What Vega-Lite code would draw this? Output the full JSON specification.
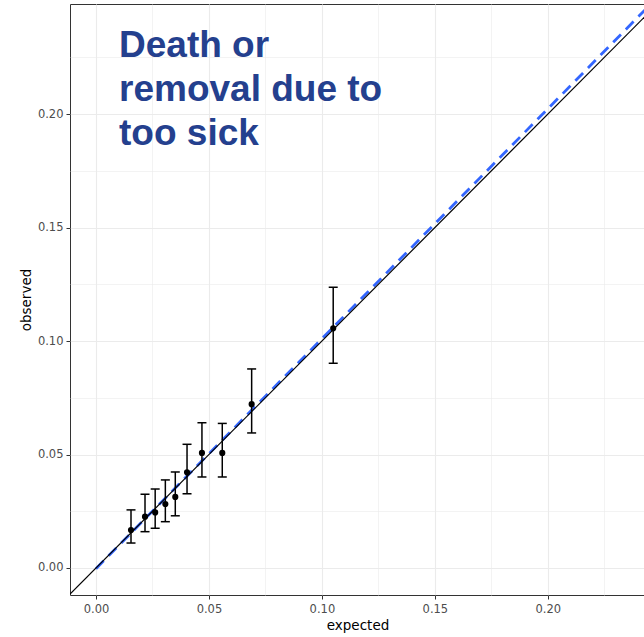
{
  "$schema": "https://vega.github.io/schema/vega-lite/v6.json",
  "width": 575,
  "height": 591,
  "autosize": "none",
  "padding": {"left": 70, "top": 4, "right": 0, "bottom": 42},
  "background": "white",
  "config": {
    "font": "DejaVu Sans",
    "view": {"stroke": "#333333", "strokeWidth": 1},
    "axis": {
      "domain": false,
      "gridColor": "#ebebeb",
      "tickColor": "#333333",
      "tickSize": 4,
      "labelColor": "#4d4d4d",
      "labelFontSize": 11.5,
      "labelFont": "DejaVu Sans",
      "titleFont": "DejaVu Sans",
      "titleFontSize": 13.5,
      "titleFontWeight": "normal",
      "titleColor": "#000000",
      "labelPadding": 3
    }
  },
  "datasets": {
    "pts": [
      {"expected": 0.0155, "observed": 0.0167, "lo": 0.0110, "hi": 0.0256},
      {"expected": 0.0217, "observed": 0.0226, "lo": 0.0160, "hi": 0.0325},
      {"expected": 0.0262, "observed": 0.0245, "lo": 0.0175, "hi": 0.0348},
      {"expected": 0.0307, "observed": 0.0282, "lo": 0.0204, "hi": 0.0388},
      {"expected": 0.0351, "observed": 0.0313, "lo": 0.0230, "hi": 0.0423},
      {"expected": 0.0403, "observed": 0.0422, "lo": 0.0327, "hi": 0.0545},
      {"expected": 0.0469, "observed": 0.0507, "lo": 0.0401, "hi": 0.0640},
      {"expected": 0.0559, "observed": 0.0507, "lo": 0.0401, "hi": 0.0637},
      {"expected": 0.0689, "observed": 0.0722, "lo": 0.0595, "hi": 0.0877},
      {"expected": 0.1050, "observed": 0.1056, "lo": 0.0902, "hi": 0.1237}
    ],
    "identity": [
      {"expected": -0.0115, "observed": -0.0115},
      {"expected": 0.2430, "observed": 0.2430}
    ],
    "fit": [
      {"expected": 0.0, "observed": -0.0003},
      {"expected": 0.2430, "observed": 0.2459}
    ],
    "label": [
      {"expected": 0.0102, "observed": 0.2251, "text": "Death or\nremoval due to\ntoo sick"}
    ]
  },
  "encoding": {
    "x": {
      "field": "expected",
      "type": "quantitative",
      "title": "expected",
      "scale": {"domain": [-0.0115, 0.2430], "nice": false, "zero": false},
      "axis": {
        "values": [0, 0.025, 0.05, 0.075, 0.1, 0.125, 0.15, 0.175, 0.2, 0.225],
        "labelExpr": "round(datum.value*40) % 2 == 0 ? format(datum.value, '.2f') : ''",
        "tickOpacity": {"condition": {"test": "round(datum.value*40) % 2 == 1", "value": 0}, "value": 1},
        "gridWidth": {"condition": {"test": "round(datum.value*40) % 2 == 1", "value": 0.6}, "value": 1.1},
        "labelPadding": 4,
        "titlePadding": 4
      }
    },
    "y": {
      "field": "observed",
      "type": "quantitative",
      "title": "observed",
      "scale": {"domain": [-0.0119, 0.2485], "nice": false, "zero": false},
      "axis": {
        "values": [0, 0.025, 0.05, 0.075, 0.1, 0.125, 0.15, 0.175, 0.2, 0.225],
        "labelExpr": "round(datum.value*40) % 2 == 0 ? format(datum.value, '.2f') : ''",
        "tickOpacity": {"condition": {"test": "round(datum.value*40) % 2 == 1", "value": 0}, "value": 1},
        "gridWidth": {"condition": {"test": "round(datum.value*40) % 2 == 1", "value": 0.6}, "value": 1.1},
        "titlePadding": 4
      }
    }
  },
  "layer": [
    {
      "data": {"name": "fit"},
      "mark": {"type": "line", "color": "#3366FF", "strokeWidth": 2.8, "strokeDash": [11, 7], "clip": true}
    },
    {
      "data": {"name": "identity"},
      "mark": {"type": "line", "color": "#000000", "strokeWidth": 1.2, "clip": true}
    },
    {
      "data": {"name": "pts"},
      "mark": {"type": "rule", "color": "#000000", "strokeWidth": 1.5},
      "encoding": {"y": {"field": "lo", "type": "quantitative"}, "y2": {"field": "hi"}}
    },
    {
      "data": {"name": "pts"},
      "mark": {"type": "tick", "orient": "horizontal", "color": "#000000", "size": 9, "thickness": 1.5, "opacity": 1},
      "encoding": {"y": {"field": "lo", "type": "quantitative"}}
    },
    {
      "data": {"name": "pts"},
      "mark": {"type": "tick", "orient": "horizontal", "color": "#000000", "size": 9, "thickness": 1.5, "opacity": 1},
      "encoding": {"y": {"field": "hi", "type": "quantitative"}}
    },
    {
      "data": {"name": "pts"},
      "mark": {"type": "point", "filled": true, "color": "#000000", "opacity": 1, "size": 38}
    },
    {
      "data": {"name": "label"},
      "mark": {"type": "text", "align": "left", "baseline": "alphabetic", "font": "Liberation Sans", "fontWeight": "bold", "fontSize": 37, "lineHeight": 44, "color": "#24408e", "lineBreak": "\n"},
      "encoding": {"text": {"field": "text"}}
    }
  ]
}
